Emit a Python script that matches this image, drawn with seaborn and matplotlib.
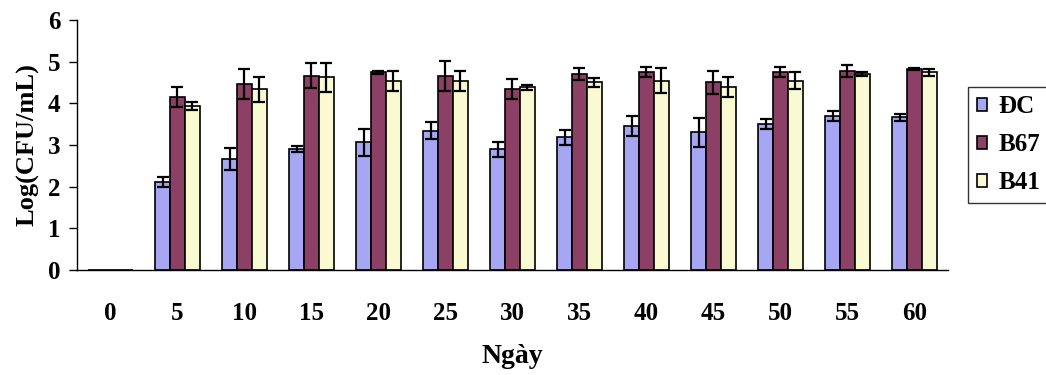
import numpy as np
import pandas as pd
import matplotlib

matplotlib.use("Agg")
import matplotlib.pyplot as plt
import seaborn as sns

# Data
days = ["0", "5", "10", "15", "20", "25", "30", "35", "40", "45", "50", "55", "60"]
groups = ["ĐC", "B67", "B41"]

dc_mean = [0, 2.10, 2.66, 2.90, 3.06, 3.34, 2.90, 3.18, 3.46, 3.30, 3.50, 3.70, 3.66]
dc_err = [0, 0.12, 0.26, 0.08, 0.32, 0.20, 0.18, 0.18, 0.24, 0.34, 0.12, 0.12, 0.08]
b67_mean = [0, 4.14, 4.46, 4.66, 4.74, 4.66, 4.34, 4.70, 4.74, 4.50, 4.74, 4.78, 4.82]
b67_err = [0, 0.24, 0.36, 0.30, 0.04, 0.36, 0.24, 0.14, 0.12, 0.28, 0.12, 0.14, 0.02]
b41_mean = [0, 3.94, 4.34, 4.62, 4.54, 4.54, 4.38, 4.50, 4.54, 4.38, 4.54, 4.70, 4.74]
b41_err = [0, 0.10, 0.30, 0.34, 0.24, 0.24, 0.05, 0.10, 0.30, 0.24, 0.20, 0.04, 0.08]

colors = ["#9999FF", "#993366", "#FFFFCC"]

errs = [dc_err, b67_err, b41_err]

df = pd.DataFrame(
    {
        "day": days * 3,
        "group": [g for g in groups for _ in days],
        "value": dc_mean + b67_mean + b41_mean,
    }
)

sns.set_style("white")
plt.rcParams["font.family"] = ["Liberation Serif", "DejaVu Serif"]
plt.rcParams["font.weight"] = "bold"
plt.rcParams["text.color"] = "black"
plt.rcParams["axes.labelcolor"] = "black"
plt.rcParams["xtick.color"] = "black"
plt.rcParams["ytick.color"] = "black"

fig, ax = plt.subplots(figsize=(10.46, 3.75), dpi=100)
fig.subplots_adjust(left=0.0736, right=0.9063, bottom=0.28, top=0.9467)

sns.barplot(
    data=df,
    x="day",
    y="value",
    hue="group",
    order=days,
    hue_order=groups,
    palette=colors,
    edgecolor="black",
    linewidth=1.2,
    width=0.67,
    errorbar=None,
    ax=ax,
)

# Error bars on top of each bar
for container, err in zip(ax.containers, errs):
    xs, ys, es = [], [], []
    for bar, e in zip(container, err):
        if bar.get_height() > 0:
            xs.append(bar.get_x() + bar.get_width() / 2)
            ys.append(bar.get_height())
            es.append(e)
    ax.errorbar(xs, ys, yerr=es, fmt="none", ecolor="black",
                elinewidth=1.6, capsize=4.5, capthick=1.6, zorder=5)

ax.set_ylim(0, 6)
ax.set_xlim(-0.5, len(days) - 0.5)
ax.set_yticks(range(0, 7))

# ticks between categories, labels at centres
ax.set_xticks(np.arange(-0.5, len(days)), minor=True)
ax.tick_params(axis="x", which="major", length=0, pad=23, labelsize=18)
ax.tick_params(axis="x", which="minor", length=6, width=1, color="black",
               direction="out")
ax.tick_params(axis="y", length=6, width=1, color="black", direction="out",
               pad=6, labelsize=18, left=True)
for lbl in ax.get_xticklabels() + ax.get_yticklabels():
    lbl.set_fontweight("bold")
    lbl.set_color("black")

sns.despine(ax=ax)
for sp in ["left", "bottom"]:
    ax.spines[sp].set_color("black")
    ax.spines[sp].set_linewidth(1)

ax.set_xlabel("Ngày", fontsize=20, fontweight="bold", labelpad=14, color="black")
ax.set_ylabel("Log(CFU/mL)", fontsize=19, fontweight="bold", labelpad=6,
              color="black")

leg = ax.legend(
    loc="center left",
    bbox_to_anchor=(1.023, 0.5),
    borderaxespad=0,
    frameon=True,
    fancybox=False,
    edgecolor="black",
    prop={"size": 18, "weight": "bold"},
    handlelength=0.42,
    handleheight=0.42,
    handletextpad=0.45,
    labelspacing=0.6,
    borderpad=0.35,
    title=None,
)
leg.get_frame().set_linewidth(1)
for t in leg.get_texts():
    t.set_color("black")

fig.savefig("out.png", dpi=100)
